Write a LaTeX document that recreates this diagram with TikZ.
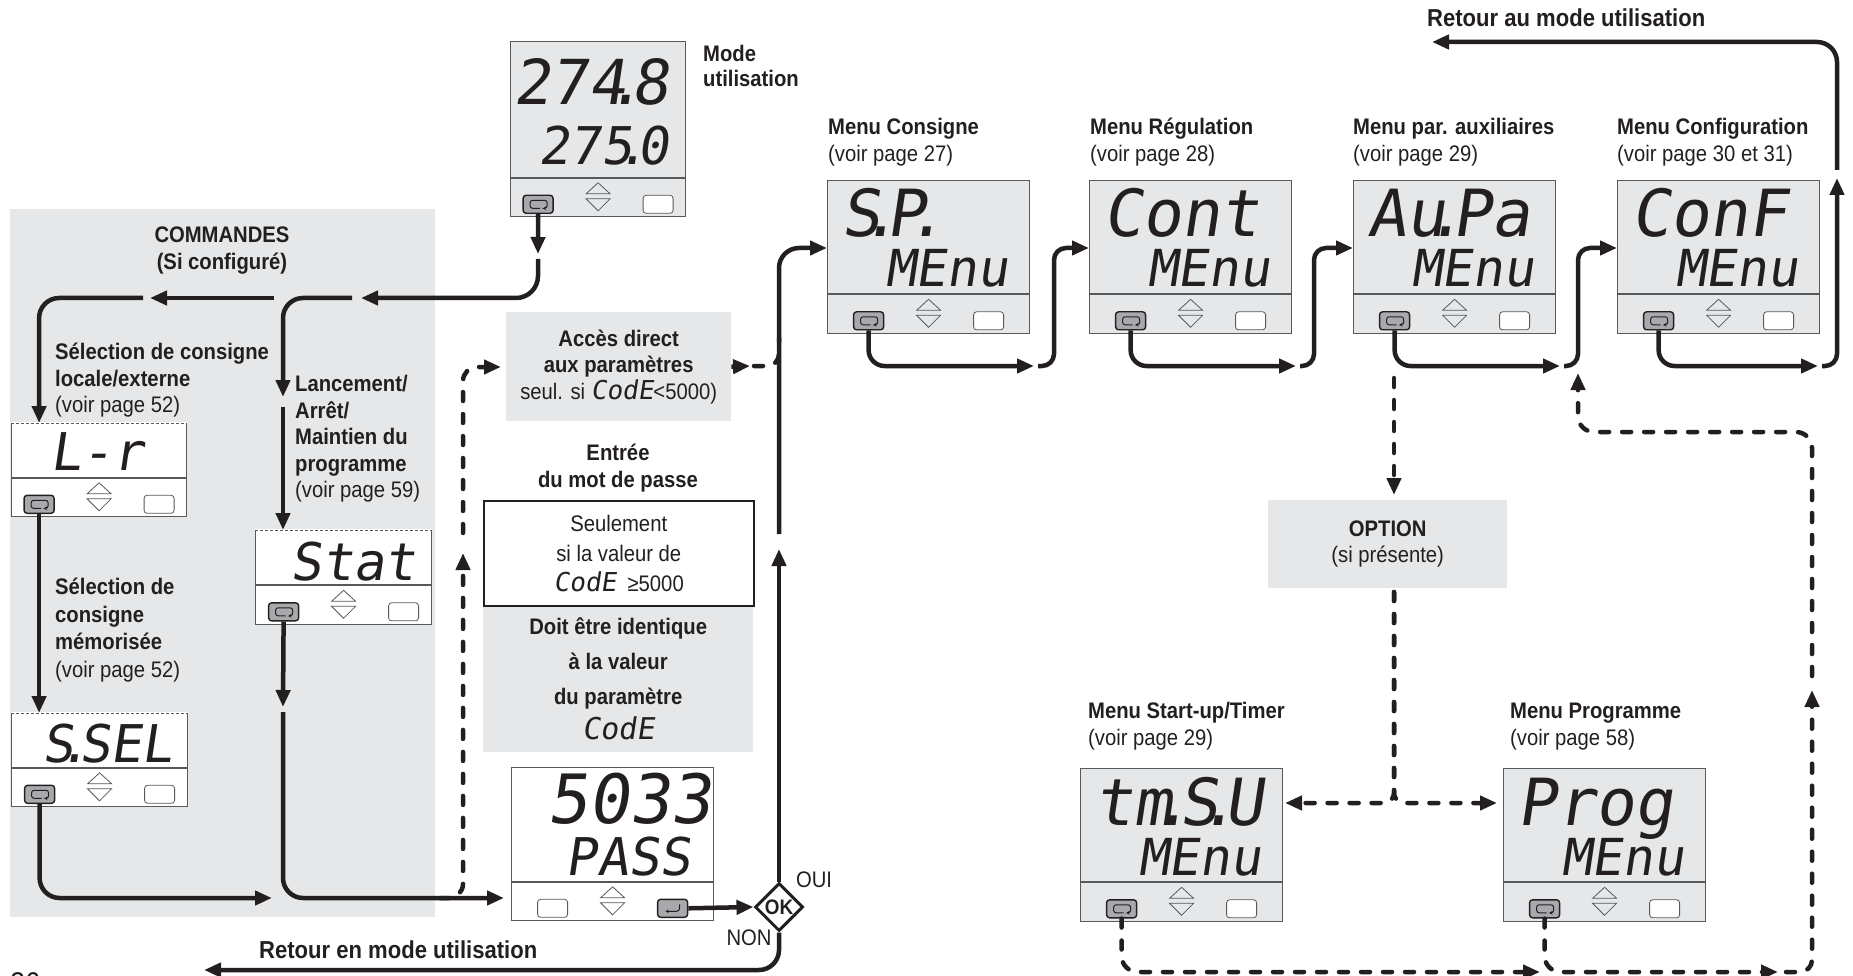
\documentclass[tikz,border=0pt]{standalone}
\usepackage{fontspec}
\setmainfont{Liberation Sans}[FakeStretch=0.9]
\newfontfamily\lcdfont{DejaVu Sans Mono}[FakeSlant=0.15]
\usetikzlibrary{arrows.meta, positioning, shapes.geometric, calc}
\definecolor{Ink}{HTML}{231F20}
\definecolor{PanelGrey}{HTML}{E6E7E8}
\definecolor{FrameGrey}{HTML}{58595B}
\definecolor{KeyGrey}{HTML}{A7A9AC}
\newcommand{\dt}{\kern-0.3em.\kern-0.2em}
\newcommand{\code}[1][26]{{\lcdfont\fontsize{#1}{#1}\selectfont CodE}}

\begin{document}
\begin{tikzpicture}[
    x=1pt, y=-1pt,
    txt/.style={font=\fontsize{22.5}{26.5}\selectfont, text=Ink, inner sep=0pt, align=left},
    head/.style={txt, font=\fontsize{22.5}{26.5}\selectfont\bfseries},
    lcd/.style={font=\lcdfont\fontsize{#1}{#1}\selectfont, text=Ink, inner sep=0pt},
    zone/.style={rectangle, fill=PanelGrey, inner sep=0pt, anchor=north west},
    screen/.style={rectangle, draw=FrameGrey, fill=PanelGrey, line width=1.2pt, inner sep=0pt, anchor=north west},
    keypad/.style={rectangle, draw=FrameGrey, fill=PanelGrey, line width=1.2pt, inner sep=0pt, anchor=north, minimum height=39},
    plainkey/.style={rectangle, rounded corners=3pt, draw=FrameGrey, fill=white, line width=0.8pt,
        minimum width=30, minimum height=18, inner sep=0pt},
    loopkey/.style={plainkey, draw=Ink, fill=KeyGrey, line width=1.4pt,
        path picture={\draw[Ink, line width=1pt, rounded corners=2.5pt, -{Stealth[length=3pt, width=4pt]}]
            ([shift={(2,4)}]path picture bounding box.center) -- ++(-10,0) -- ++(0,-8) -- ++(17,0) -- ++(0,8) -- ++(-4,0);}},
    enterkey/.style={plainkey, draw=Ink, fill=KeyGrey, line width=1.4pt,
        path picture={\draw[Ink, line width=1pt, -{Stealth[length=3pt, width=4pt]}]
            ([shift={(7,-4)}]path picture bounding box.center) -- ++(0,7) -- ++(-14,0);}},
    wire/.style={line width=4.5pt, draw=Ink, rounded corners=16pt},
    flow/.style={wire, -{Triangle[length=17pt, width=14pt]}},
    dashwire/.style={wire, dash pattern=on 9pt off 13pt, line cap=round},
    dashflow/.style={flow, dash pattern=on 9pt off 13pt, line cap=round},
    keys/.pic={
        \node[loopkey] (-loop) at (-60,6.5) {};
        \draw[FrameGrey, line width=0.8pt] (-12,-4) -- (0,-15) -- (12,-4) -- cycle;
        \draw[FrameGrey, line width=0.8pt] (-12,1) -- (0,13) -- (12,1) -- cycle;
        \node[plainkey] (-key) at (60,6.5) {};
    }
]
    \useasboundingbox (0,0) rectangle (1853,976);

    % Grey zones
    \node[zone, minimum width=425, minimum height=708] (cmdzone) at (10,209) {};
    \node[zone, txt, align=center, minimum width=225, minimum height=109] (direct) at (506,312)
        {\textbf{Accès direct}\\\textbf{aux paramètres}\\seul. si \code<5000)};
    \node[zone, head, align=center, minimum width=270, minimum height=147,
        font=\fontsize{22.5}{35}\selectfont\bfseries] (pwrule) at (483,605)
        {Doit être identique\\à la valeur\\du paramètre\\\mdseries\code[30]};
    \node[txt, align=center, draw=Ink, line width=1.5pt, fill=white, minimum width=270, minimum height=105,
        anchor=north west, font=\fontsize{22.5}{30}\selectfont] (pwcond) at (483,500)
        {Seulement\\si la valeur de\\\code\ \ ≥5000};
    \node[zone, txt, align=center, minimum width=239, minimum height=88] (option) at (1268,500)
        {\textbf{OPTION}\\(si présente)};

    % Mode utilisation
    \node[screen, minimum width=175, minimum height=136] (mode) at (510,41) {};
    \node[keypad, minimum width=175, minimum height=38] (mode-pad) at (mode.south) {};
    \node[lcd=62, anchor=base east] (modepv) at ($(mode.north east)+(-17,64)$) {274\dt 8};
    \node[lcd=52, anchor=base east] (modesv) at ($(mode.north east)+(-17,124)$) {275\dt 0};
    \pic (mode) at (mode-pad.center) {keys};
    \node[head, anchor=north west, font=\fontsize{22.5}{25}\selectfont\bfseries] (modelbl) at (703,45) {Mode\\utilisation};

    % Menus
    \foreach \nm/\px/\py/\ta in {sp/827/180/{S\dt P\dt}, cont/1089/180/Cont, aupa/1353/180/{Au\dt Pa},
                                 conf/1617/180/ConF, tmsu/1080/768/{tm\dt S\dt U}, prog/1503/768/Prog}{
        \node[screen, minimum width=202, minimum height=113] (\nm) at (\px,\py) {};
        \node[keypad, minimum width=202] (\nm-pad) at (\nm.south) {};
        \node[lcd=65, anchor=base west] (\nm-top) at ($(\nm.north west)+(14,57)$) {\ta};
        \node[lcd=51, anchor=base east] (\nm-bot) at ($(\nm.north east)+(-22,107)$) {MEnu};
        \pic (\nm) at (\nm-pad.center) {keys};
    }
    \foreach \nm/\px/\py/\ta/\tb in {sp/828/135/Menu Consigne/27, cont/1090/135/Menu Régulation/28,
                                     aupa/1353/135/Menu par. auxiliaires/29, conf/1617/135/Menu Configuration/30 et 31,
                                     tmsu/1088/718/{Menu Start-up/Timer}/29, prog/1510/718/Menu Programme/58}{
        \node[head, anchor=base west] (\nm-title) at (\px,\py) {\ta};
        \node[txt, anchor=base west] (\nm-page) at (\px,\py+27) {(voir page \tb)};
    }

    % Commandes
    \node[screen, fill=white, minimum width=175, minimum height=54] (lr) at (11,423) {};
    \node[keypad, fill=white, minimum width=175, minimum height=38] (lr-pad) at (lr.south) {};
    \node[lcd=52, anchor=base west] (lr-txt) at ($(lr.north west)+(39,47)$) {L-r};
    \pic (lr) at (lr-pad.center) {keys};

    \node[screen, fill=white, minimum width=176, minimum height=54] (stat) at (255,530) {};
    \node[keypad, fill=white, minimum width=176, minimum height=39] (stat-pad) at (stat.south) {};
    \node[lcd=52, anchor=base east] (stat-txt) at ($(stat.north east)+(-16,50)$) {Stat};
    \pic (stat) at (stat-pad.center) {keys};

    \node[screen, fill=white, minimum width=176, minimum height=54] (ssel) at (11,713) {};
    \node[keypad, fill=white, minimum width=176, minimum height=38] (ssel-pad) at (ssel.south) {};
    \node[lcd=52, anchor=base east] (ssel-txt) at ($(ssel.north east)+(-15,49)$) {S\dt SEL};
    \pic (ssel) at (ssel-pad.center) {keys};

    \foreach \nm in {lr, stat, ssel}{
        \draw[white, line width=1.6pt] (\nm.north west) -- (\nm.north east);
        \draw[FrameGrey, line width=1pt, dash pattern=on 3pt off 2pt] (\nm.north west) -- (\nm.north east);
    }

    \node[head, align=center, anchor=north] (cmdtitle) at (222,227) {COMMANDES\\(Si configuré)};
    \node[head, anchor=north west] (lrlbl) at (55,343) {Sélection de consigne\\locale/externe\\\mdseries(voir page 52)};
    \node[head, anchor=north west] (runlbl) at (295,375) {Lancement/\\Arrêt/\\Maintien du\\programme\\\mdseries(voir page 59)};
    \node[head, anchor=north west, font=\fontsize{22.5}{27.5}\selectfont\bfseries] (ssellbl) at (55,578)
        {Sélection de\\consigne\\mémorisée\\\mdseries(voir page 52)};

    % Mot de passe
    \node[screen, fill=white, minimum width=202, minimum height=114] (pass) at (511,767) {};
    \node[keypad, fill=white, minimum width=202, minimum height=38] (pass-pad) at (pass.south) {};
    \node[lcd=68, anchor=base east] (pass-val) at ($(pass.north east)+(-3,56)$) {5033};
    \node[lcd=52, anchor=base east] (pass-txt) at ($(pass.north east)+(-23,108)$) {PASS};
    \node[plainkey] (pass-key) at ([xshift=-60pt, yshift=-6.5pt]pass-pad.center) {};
    \draw[FrameGrey, line width=0.8pt] ([shift={(-12,-4)}]pass-pad.center) -- ++(12,-11) -- ++(12,11) -- cycle;
    \draw[FrameGrey, line width=0.8pt] ([shift={(-12,1)}]pass-pad.center) -- ++(12,12) -- ++(12,-12) -- cycle;
    \node[enterkey] (pass-enter) at ([xshift=60pt, yshift=-6.5pt]pass-pad.center) {};
    \node[head, align=center, anchor=north] (pwtitle) at (618,444) {Entrée\\du mot de passe};

    \node[diamond, draw=Ink, fill=white, line width=3pt, inner sep=0pt, aspect=1, minimum size=48,
        font=\fontsize{21}{21}\selectfont\bfseries, text=Ink] (ok) at (779,907) {OK};
    \node[txt, anchor=base] (oui) at (814,887) {OUI};
    \node[txt, anchor=base] (non) at (749,945) {NON};

    \node[head, anchor=base west, font=\fontsize{24.5}{26}\selectfont\bfseries] (backlbl) at (259,958) {Retour en mode utilisation};
    \node[head, anchor=base west, font=\fontsize{24.5}{26}\selectfont\bfseries] (homelbl) at (1427,27) {Retour au mode utilisation};
    \node[txt, anchor=base west, font=\fontsize{30}{30}\selectfont] (pagenum) at (10,993) {26};

    % Free ends and bends
    \coordinate (modedrop) at (538,254);
    \coordinate (cmdin) at (538,259);
    \coordinate (cmdsplit) at (361,298);
    \coordinate (cmdfork) at (352,298);
    \coordinate (rundrop) at (283,397);
    \coordinate (cmdmid) at (274,298);
    \coordinate (cmdleft) at (150,298);
    \coordinate (lrfork) at (143,298);
    \coordinate (runin) at (283,407);
    \coordinate (statdrop) at (283,707);
    \coordinate (statgo) at (283,712);
    \coordinate (sselout) at (272,898);
    \coordinate (passin) at (504,898);
    \coordinate (skipstart) at (440,898);
    \coordinate (skipup) at (463,553);
    \coordinate (skiptop) at (463,533);
    \coordinate (directin) at (501,367);
    \coordinate (directtip) at (750,366);
    \coordinate (directout) at (754,366);
    \coordinate (okrise) at (779,338);
    \coordinate (okup) at (779,549);
    \coordinate (okgo) at (779,534);
    \coordinate (spin) at (827,248);
    \coordinate (backhome) at (204,970);

    % Commandes links
    \draw[flow] (mode-loop.south) -- (modedrop);
    \draw[flow, rounded corners=22pt] (cmdin) |- (cmdsplit);
    \draw[flow, rounded corners=20pt] (cmdfork) -| (rundrop);
    \draw[flow] (cmdmid) -- (cmdleft);
    \draw[flow, rounded corners=20pt] (lrfork) -| (lr-loop.south |- lr.north);
    \draw[flow] (runin) -- (runin |- stat.north);
    \draw[flow] (lr-loop.south) -- (lr-loop.south |- ssel.north);
    \draw[flow, rounded corners=20pt] (ssel-loop.south) |- (sselout);
    \draw[flow] (stat-loop.south) -- (statdrop);
    \draw[flow, rounded corners=20pt] (statgo) |- (passin);

    % Mot de passe links
    \draw[dashflow, rounded corners=14pt] (skipstart) -| (skipup);
    \draw[dashflow, rounded corners=14pt] (skiptop) |- (directin);
    \draw[flow] (direct.east) -- (directtip);
    \draw[dashwire, rounded corners=12pt] (directout) -| (okrise);
    \draw[flow] (pass-enter.east) -- (ok.west);
    \draw[flow] (ok.north) -- (okup);
    \draw[flow, rounded corners=20pt] (okgo) |- (spin);
    \draw[flow, rounded corners=20pt] (ok.south) |- (backhome);

    % Menu links
    \foreach \nm/\nx/\tipx/\risex in {sp/cont/1034/1054, cont/aupa/1296/1314, aupa/conf/1560/1578}{
        \coordinate (\nm-out) at (\tipx,366);
        \coordinate (\nm-turn) at (\tipx+4,366);
        \coordinate (\nm-rise) at (\risex,248);
        \draw[flow] (\nm-loop.south) |- (\nm-out);
        \draw[flow, rounded corners=12pt] (\nm-turn) -| (\nm-rise) -- (\nx.west |- \nm-rise);
    }
    \coordinate (conf-out) at (1818,366);
    \coordinate (conf-turn) at (1822,366);
    \coordinate (confup) at (1837,178);
    \coordinate (homestart) at (1837,170);
    \coordinate (homeend) at (1432,42);
    \draw[flow] (conf-loop.south) |- (conf-out);
    \draw[flow, rounded corners=12pt] (conf-turn) -| (confup);
    \draw[flow, rounded corners=20pt] (homestart) |- (homeend);

    % Option links
    \coordinate (optdrop) at (1394,378);
    \coordinate (optin) at (1394,495);
    \coordinate (optout) at (1394,592);
    \coordinate (tmsuin) at (1285,803);
    \coordinate (progin) at (1497,803);
    \coordinate (tmsuout) at (1540,972);
    \coordinate (progout) at (1778,972);
    \coordinate (loopturn) at (1786,972);
    \coordinate (loopup) at (1812,690);
    \coordinate (backstart) at (1812,676);
    \coordinate (backknee) at (1578,432);
    \coordinate (aupaback) at (1578,373);
    \draw[dashflow] (optdrop) -- (optin);
    \draw[dashflow, rounded corners=10pt] (optout) |- (tmsuin);
    \draw[dashflow, rounded corners=10pt] (optout) |- (progin);
    \draw[dashflow] (tmsu-loop.south) |- (tmsuout);
    \draw[dashflow] (prog-loop.south) |- (progout);
    \draw[dashflow, rounded corners=12pt] (loopturn) -| (loopup);
    \draw[dashflow] (backstart) |- (backknee) -- (aupaback);

\end{tikzpicture}
\end{document}
